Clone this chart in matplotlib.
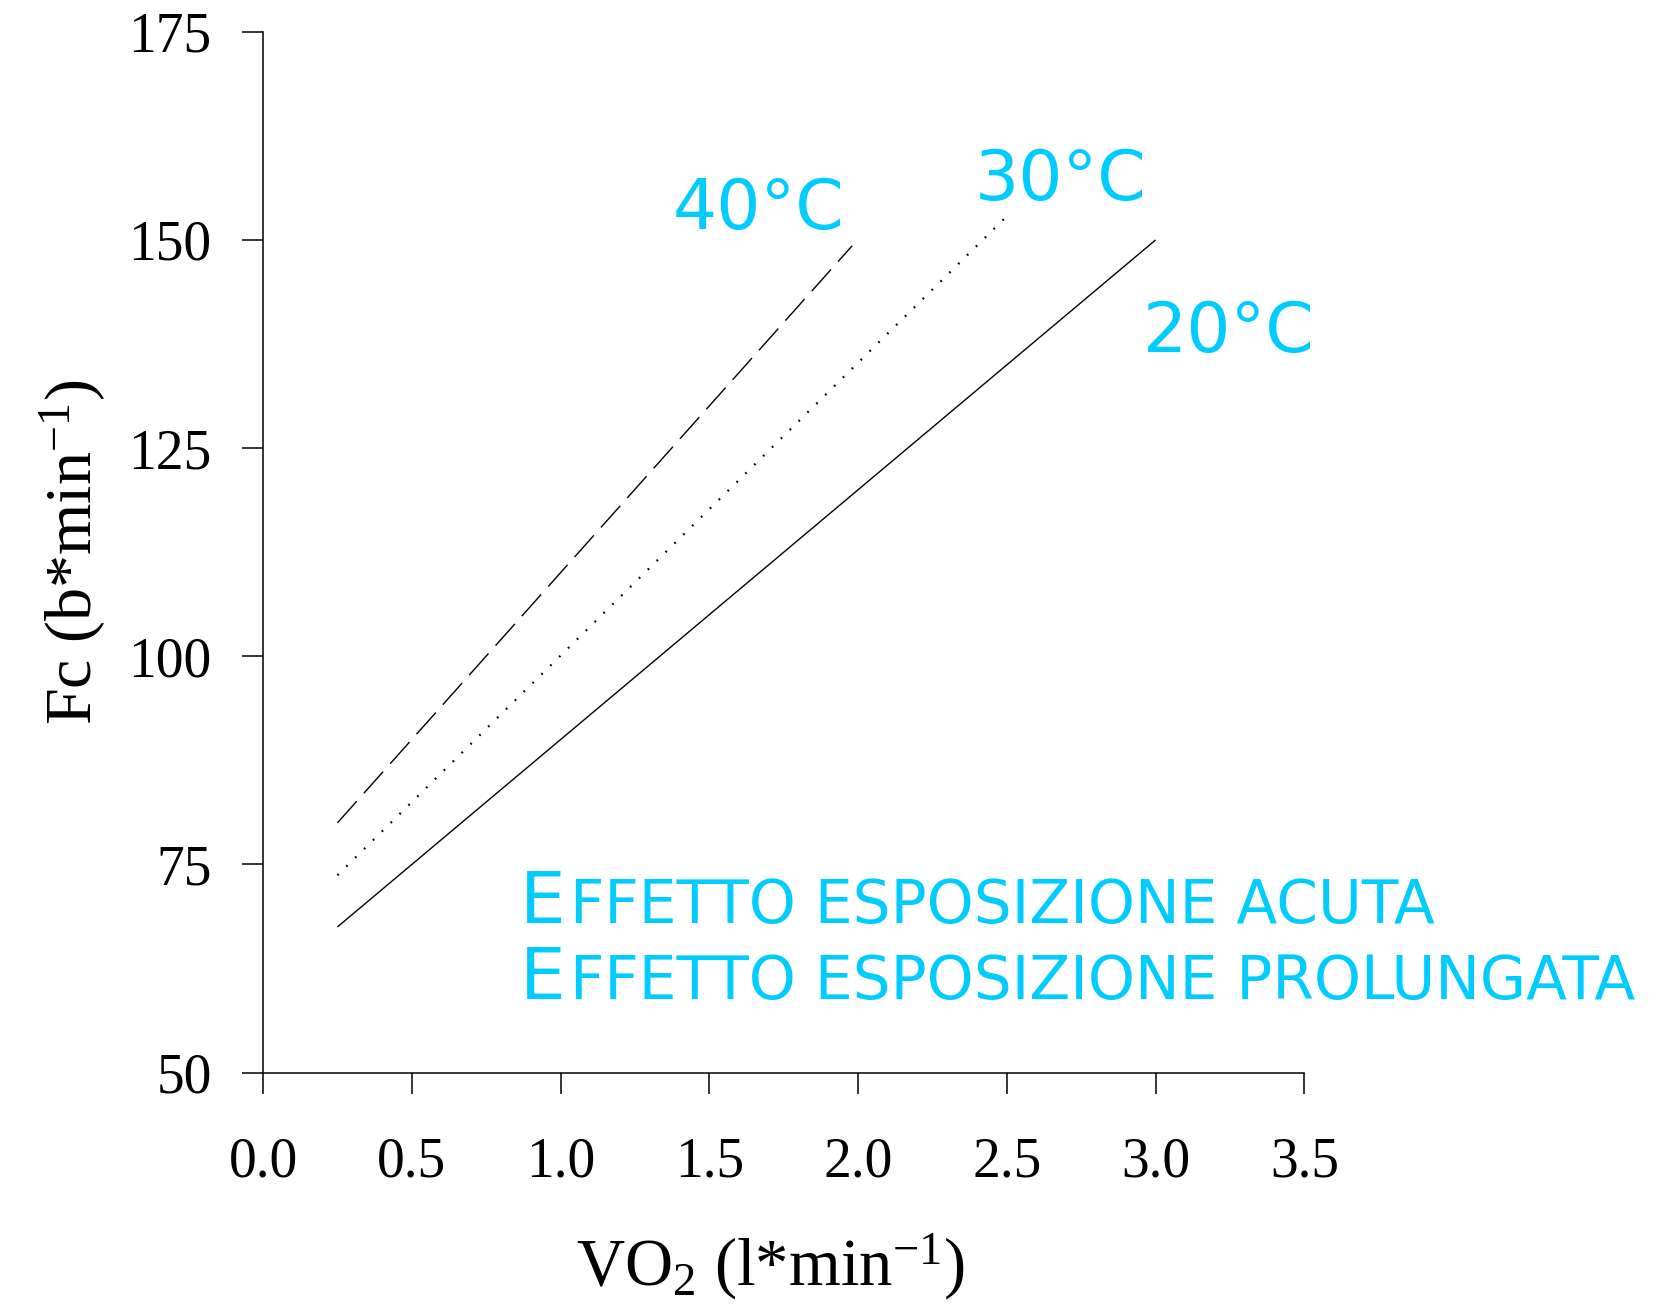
import matplotlib
matplotlib.use("Agg")
import matplotlib.pyplot as plt
from matplotlib import transforms

# ---- data ----
vo2_20 = [0.25, 3.0]
fc_20 = [67.5, 150.0]
vo2_30 = [0.25, 2.49]
fc_30 = [73.7, 152.5]
vo2_40 = [0.25, 1.98]
fc_40 = [80.0, 149.3]

xticks = [0.0, 0.5, 1.0, 1.5, 2.0, 2.5, 3.0, 3.5]
xticklabels = ["0.0", "0.5", "1.0", "1.5", "2.0", "2.5", "3.0", "3.5"]
yticks = [50, 75, 100, 125, 150, 175]
yticklabels = ["50", "75", "100", "125", "150", "175"]

temp_labels = ["40°C", "30°C", "20°C"]
note_lines = ["Effetto esposizione acuta", "Effetto esposizione prolungata"]

CYAN = "#00CCFF"

plt.rcParams["mathtext.fontset"] = "custom"
plt.rcParams["mathtext.rm"] = "Liberation Serif"
plt.rcParams["mathtext.it"] = "Liberation Serif:italic"
plt.rcParams["mathtext.bf"] = "Liberation Serif:bold"

fig = plt.figure(figsize=(16.67, 13.11), dpi=100)
ax = fig.add_axes([0.1578, 0.1818, 0.6247, 0.794])

ax.plot(vo2_20, fc_20, color="black", lw=1.0, solid_capstyle="butt")
ax.plot(vo2_30, fc_30, color="black", lw=1.6, linestyle=(0, (0.8, 4.8)))
ax.plot(vo2_40, fc_40, color="black", lw=1.0, linestyle=(0, (20.9, 7.6)))

ax.set_xlim(0, 3.5)
ax.set_ylim(50, 175)
ax.set_xticks(xticks)
ax.set_xticklabels(xticklabels)
ax.set_yticks(yticks)
ax.set_yticklabels(yticklabels)

for s in ["top", "right"]:
    ax.spines[s].set_visible(False)
for s in ["left", "bottom"]:
    ax.spines[s].set_linewidth(1.1)

ax.tick_params(axis="both", direction="out", length=15, width=1.1,
               labelsize=40)
ax.tick_params(axis="x", pad=31)
ax.tick_params(axis="y", pad=22)
for lab in ax.get_xticklabels() + ax.get_yticklabels():
    lab.set_fontfamily("Liberation Serif")

ax.set_xlabel(r"VO$_{\mathrm{2}}$ (l*min$^{\mathrm{-1}}$)",
              fontsize=48, family="Liberation Serif", va="baseline")
ax.xaxis.set_label_coords(0.487, -0.204)
ax.set_ylabel(r"Fc (b*min$^{\mathrm{-1}}$)",
              fontsize=47.5, family="Liberation Serif", va="baseline")
ax.yaxis.set_label_coords(-0.166, 0.5)

# temperature labels
tfont = dict(fontsize=50, family="DejaVu Sans", color=CYAN, ha="left",
             va="baseline")
ax.text(1.378, 151.3, temp_labels[0], **tfont)
ax.text(2.392, 154.8, temp_labels[1], **tfont)
ax.text(2.957, 136.5, temp_labels[2], **tfont)

# small caps notes
fig.canvas.draw()
renderer = fig.canvas.get_renderer()
note_y = [68.0, 58.85]
for line, yy in zip(note_lines, note_y):
    first = line[0]
    rest = line[1:].upper()
    t = ax.text(0.863, yy, first, fontsize=52, family="DejaVu Sans",
                color=CYAN, ha="left", va="baseline")
    bb = t.get_window_extent(renderer)
    dx = (bb.width + 5) * 72.0 / fig.dpi
    tr = transforms.offset_copy(ax.transData, fig=fig, x=dx, y=0,
                                units="points")
    ax.text(0.863, yy, rest, fontsize=43, family="DejaVu Sans",
            color=CYAN, ha="left", va="baseline", transform=tr)

fig.savefig("out.png", dpi=100)
